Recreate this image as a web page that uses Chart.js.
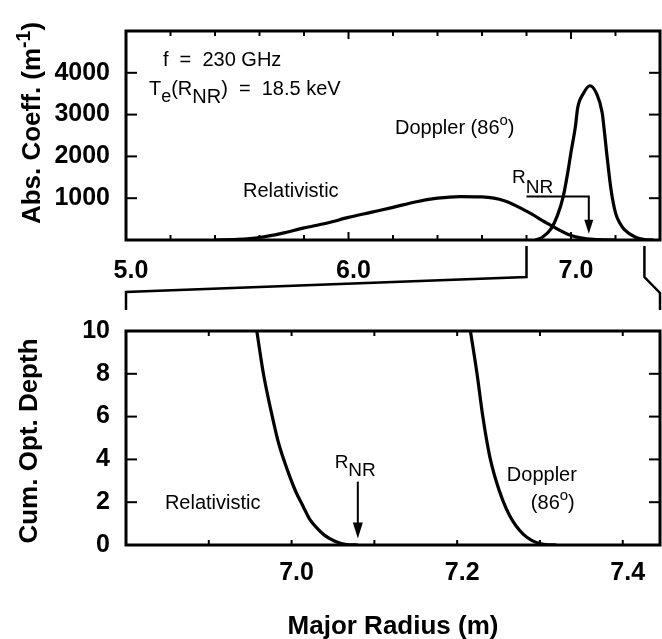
<!DOCTYPE html>
<html>
<head>
<meta charset="utf-8">
<title>Absorption coefficient and optical depth</title>
<script src="https://cdn.jsdelivr.net/npm/chart.js@4.4.1/dist/chart.umd.min.js"></script>
<style>
  body { margin: 0; background: #fff; }
  .panel { position: absolute; left: 0; }
  #absChart { top: 0; }
  #depthChart { top: 300px; }
</style>
</head>
<body>
<canvas id="absChart" class="panel" width="662" height="320"></canvas>
<canvas id="depthChart" class="panel" width="662" height="339"></canvas>
<script>
// Upper panel - absorption coefficient (m^-1) vs major radius (m)
const relAbsRadius = [5.40, 5.50, 5.60, 5.70, 5.80, 5.90, 6.00, 6.10, 6.20, 6.30, 6.40, 6.50, 6.60, 6.70, 6.80, 6.90, 7.00, 7.10, 7.20];
const relAbsCoeff  = [0, 15, 60, 160, 290, 400, 540, 660, 780, 910, 1000, 1040, 1030, 940, 690, 380, 110, 15, 0];
const dopAbsRadius = [6.84, 6.87, 6.91, 6.94, 6.965, 6.985, 7.00, 7.02, 7.03, 7.055, 7.085, 7.115, 7.14, 7.15, 7.16, 7.18, 7.20, 7.22, 7.24, 7.29, 7.33, 7.37];
const dopAbsCoeff  = [0, 60, 265, 600, 1040, 1600, 2100, 2720, 3160, 3500, 3690, 3500, 3050, 2600, 2100, 1200, 650, 400, 250, 65, 10, 0];

// Lower panel - cumulative optical depth vs major radius (m)
const relDepthRadius = [6.958, 6.966, 6.975, 6.984, 6.995, 7.005, 7.014, 7.022, 7.031, 7.040, 7.051, 7.060, 7.070, 7.080];
const relDepth       = [10, 8, 6.3, 4.8, 3.5, 2.5, 1.8, 1.2, 0.78, 0.45, 0.2, 0.07, 0.01, 0];
const dopDepthRadius = [7.216, 7.224, 7.231, 7.239, 7.247, 7.255, 7.263, 7.271, 7.280, 7.290, 7.300, 7.310, 7.320];
const dopDepth       = [10, 8, 6, 4.2, 3, 2.1, 1.4, 0.9, 0.5, 0.22, 0.07, 0.01, 0];

// Axis ticks
const absTicks = [1000, 2000, 3000, 4000];
const absRadiusTicks = [5.0, 6.0, 7.0];
const depthTicks = [0, 2, 4, 6, 8, 10];
const depthRadiusTicks = [7.0, 7.2, 7.4];

const R_NR = 7.08;
const FONT = '"Liberation Sans", Arial, Helvetica, sans-serif';

function toPoints(xs, ys) {
    return xs.map(function(x, i) { return { x: x, y: ys[i] }; });
}

function curve(xs, ys) {
    return {
        data: toPoints(xs, ys),
        borderColor: '#000',
        borderWidth: 3.2,
        pointRadius: 0,
        fill: false,
        cubicInterpolationMode: 'monotone'
    };
}

// rich text: parts are [text, dy, sizeFactor]
function setFont(ctx, size, bold) {
    ctx.font = (bold ? 'bold ' : '') + size + 'px ' + FONT;
}
function richWidth(ctx, parts, size, bold) {
    let w = 0;
    parts.forEach(function(p) {
        setFont(ctx, size * (p[2] || 1), bold);
        w += ctx.measureText(p[0]).width;
    });
    return w;
}
function drawRich(ctx, x, y, parts, size, bold) {
    let cx = x;
    ctx.textAlign = 'left';
    ctx.textBaseline = 'alphabetic';
    parts.forEach(function(p) {
        setFont(ctx, size * (p[2] || 1), bold);
        ctx.fillText(p[0], cx, y + (p[1] || 0));
        cx += ctx.measureText(p[0]).width;
    });
}
function drawRotated(ctx, x, yCenter, parts, size) {
    ctx.save();
    ctx.translate(x, yCenter);
    ctx.rotate(-Math.PI / 2);
    const w = richWidth(ctx, parts, size, true);
    drawRich(ctx, -w / 2, 0, parts, size, true);
    ctx.restore();
}

function line(ctx, x1, y1, x2, y2) {
    ctx.beginPath();
    ctx.moveTo(x1, y1);
    ctx.lineTo(x2, y2);
    ctx.stroke();
}
function arrowHead(ctx, x, tipY, len, half) {
    ctx.beginPath();
    ctx.moveTo(x, tipY);
    ctx.lineTo(x - half, tipY - len);
    ctx.lineTo(x + half, tipY - len);
    ctx.closePath();
    ctx.fill();
}

// frame box with inward tick marks, plus per-panel extras
function framePlugin(opts) {
    return {
        id: 'frame',
        afterDatasetsDraw: function(chart) {
            const ctx = chart.ctx;
            const a = chart.chartArea;
            const xs = chart.scales.x;
            const ys = chart.scales.y;
            ctx.save();
            ctx.strokeStyle = '#000';
            ctx.fillStyle = '#000';
            ctx.lineWidth = 2;
            opts.xMarks.forEach(function(m) {
                const px = xs.getPixelForValue(m[0]);
                line(ctx, px, a.bottom, px, a.bottom - m[1]);
                line(ctx, px, a.top, px, a.top + m[1]);
            });
            opts.yMarks.forEach(function(v) {
                const py = ys.getPixelForValue(v);
                line(ctx, a.left, py, a.left + 11, py);
                line(ctx, a.right, py, a.right - 11, py);
            });
            ctx.lineWidth = 3;
            ctx.strokeRect(a.left, a.top, a.right - a.left, a.bottom - a.top);
            opts.extra(chart, ctx, xs, ys, a);
            ctx.restore();
        }
    };
}

function commonScales(xMin, xMax, xTicks, yMin, yMax, yTicks, xHeight, xPad) {
    const tickFont = { family: FONT, size: 25, weight: 'bold' };
    return {
        x: {
            type: 'linear', min: xMin, max: xMax,
            grid: { display: false, drawTicks: false },
            border: { display: false },
            afterBuildTicks: function(s) { s.ticks = xTicks.map(function(v) { return { value: v }; }); },
            afterFit: function(s) { s.height = xHeight; },
            ticks: {
                autoSkip: false, maxRotation: 0, color: '#000', font: tickFont,
                padding: xPad, labelOffset: 5,
                callback: function(v) { return Number(v).toFixed(1); }
            }
        },
        y: {
            type: 'linear', min: yMin, max: yMax,
            grid: { display: false, drawTicks: false },
            border: { display: false },
            afterBuildTicks: function(s) { s.ticks = yTicks.map(function(v) { return { value: v }; }); },
            afterFit: function(s) { s.width = 126; },
            ticks: {
                autoSkip: false, color: '#000', font: tickFont, padding: 16,
                callback: function(v) { return String(v); }
            }
        }
    };
}

const baseOptions = {
    responsive: false,
    animation: false,
    events: [],
    plugins: { legend: { display: false }, tooltip: { enabled: false } }
};

// ---------- upper panel ----------
const absMinor = [];
for (let r = 5.2; r < 7.3; r += 0.2) {
    absMinor.push([r, Math.abs(r - Math.round(r)) < 0.01 ? 8 : 5]);
}

new Chart(document.getElementById('absChart'), {
    type: 'line',
    data: { datasets: [curve(relAbsRadius, relAbsCoeff), curve(dopAbsRadius, dopAbsCoeff)] },
    options: Object.assign({}, baseOptions, {
        layout: { padding: { left: 0, right: 2, top: 14, bottom: 0 } },
        scales: commonScales(5.0, 7.4, absRadiusTicks, 0, 5000, absTicks, 80, 16)
    }),
    plugins: [framePlugin({
        xMarks: absMinor,
        yMarks: absTicks,
        extra: function(chart, ctx, xs, ys, a) {
            const X = function(v) { return xs.getPixelForValue(v); };
            const Y = function(v) { return ys.getPixelForValue(v); };
            // labels
            drawRich(ctx, X(5.166), Y(4159), [['f  =  230 GHz', 0]], 20, false);
            drawRich(ctx, X(5.103), Y(3473), [['T', 0], ['e', 7, 0.9], ['(R', 0], ['NR', 8], [')  =  18.5 keV', 0]], 20, false);
            drawRich(ctx, X(6.209), Y(2544), [['Doppler (86', 0], ['o', -9, 0.75], [')', 0]], 20, false);
            drawRich(ctx, X(5.526), Y(1018), [['Relativistic', 0]], 20, false);
            drawRich(ctx, X(6.735), Y(1372), [['R', 0], ['NR', 10]], 19, false);
            // R_NR arrow
            ctx.lineWidth = 2;
            ctx.beginPath();
            ctx.moveTo(X(6.80), Y(1040));
            ctx.lineTo(X(R_NR), Y(1040));
            ctx.lineTo(X(R_NR), Y(400));
            ctx.stroke();
            arrowHead(ctx, X(R_NR), Y(150), 14, 4.5);
            // zoom bracket towards the lower panel
            const xl = X(6.80), xr = X(7.33), b = a.bottom;
            ctx.lineWidth = 2.5;
            ctx.beginPath();
            ctx.moveTo(xl, b + 6); ctx.lineTo(xl, b + 37);
            ctx.lineTo(a.left, b + 52); ctx.lineTo(a.left, b + 70);
            ctx.stroke();
            ctx.beginPath();
            ctx.moveTo(xr, b + 6); ctx.lineTo(xr, b + 37);
            ctx.lineTo(a.right, b + 53); ctx.lineTo(a.right, b + 70);
            ctx.stroke();
            // axis title
            ctx.fillStyle = '#000';
            drawRotated(ctx, 40, 123, [['Abs. Coeff. (m', 0], ['-1', -10, 0.75], [')', 0]], 26);
        }
    })]
});

// ---------- lower panel ----------
const depthMinor = [];
for (let r = 6.9; r < 7.44; r += 0.1) {
    depthMinor.push([r, 5]);
}

new Chart(document.getElementById('depthChart'), {
    type: 'line',
    data: { datasets: [curve(relDepthRadius, relDepth), curve(dopDepthRadius, dopDepth)] },
    options: Object.assign({}, baseOptions, {
        layout: { padding: { left: 0, right: 2, top: 16, bottom: 0 } },
        scales: commonScales(6.8, 7.445, depthRadiusTicks, 0, 10, depthTicks, 94, 13)
    }),
    plugins: [framePlugin({
        xMarks: depthMinor,
        yMarks: [2, 4, 6, 8],
        extra: function(chart, ctx, xs, ys, a) {
            const X = function(v) { return xs.getPixelForValue(v); };
            const Y = function(v) { return ys.getPixelForValue(v); };
            drawRich(ctx, X(6.847), Y(1.70), [['Relativistic', 0]], 20, false);
            drawRich(ctx, X(7.052), Y(3.62), [['R', 0], ['NR', 8]], 19, false);
            drawRich(ctx, X(7.260), Y(2.97), [['Doppler', 0]], 20, false);
            drawRich(ctx, X(7.289), Y(1.70), [['(86', 0], ['o', -9, 0.75], [')', 0]], 20, false);
            // R_NR arrow
            ctx.lineWidth = 2;
            line(ctx, X(R_NR), Y(2.96), X(R_NR), Y(0.9));
            arrowHead(ctx, X(R_NR), Y(0.3), 16, 5);
            // axis titles
            drawRotated(ctx, 37, 141, [['Cum. Opt. Depth', 0]], 26);
            const tw = richWidth(ctx, [['Major Radius (m)', 0]], 26, true);
            drawRich(ctx, (a.left + a.right) / 2 - tw / 2, 334, [['Major Radius (m)', 0]], 26, true);
        }
    })]
});
</script>
</body>
</html>
